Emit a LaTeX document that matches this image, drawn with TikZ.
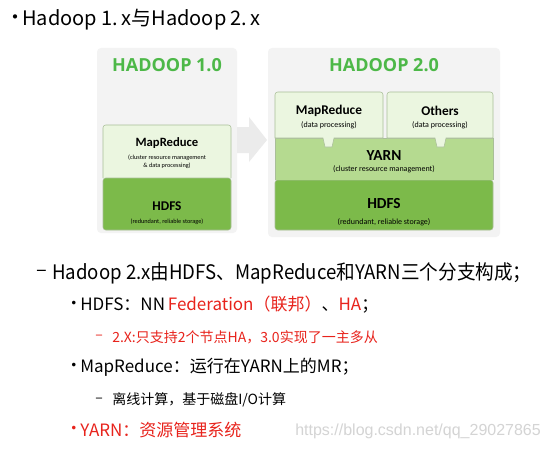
\documentclass[tikz,border=0pt]{standalone}
\usepackage{fontspec}
\setmainfont{Noto Sans CJK SC}
\newfontfamily\boxfont{Carlito}
\newfontfamily\headfont{Open Sans}
\newfontfamily\urlfont{Liberation Sans}
\usetikzlibrary{positioning}
\definecolor{panelgray}{HTML}{F3F3F3}
\definecolor{hgreen}{HTML}{4DB848}
\definecolor{palegreen}{HTML}{EBF6E0}
\definecolor{midgreen}{HTML}{B5DA90}
\definecolor{hdfsgreen}{HTML}{7CBA4A}
\definecolor{boxline}{HTML}{A9BE98}
\definecolor{pptred}{HTML}{E8231C}
\definecolor{arrowgray}{HTML}{EBEBEB}
\definecolor{markgray}{HTML}{D4D4D4}
\begin{document}
\begin{tikzpicture}[x=0.75pt, y=-0.75pt,
    every node/.style={inner sep=0pt},
    layer/.style={draw=boxline, line width=0.4pt},
    hadooptitle/.style={font=\headfont\bfseries\fontsize{13.5}{13.5}\selectfont, text=hgreen},
    boxhead/.style={font=\boxfont\bfseries\fontsize{10}{10}\selectfont},
    bighead/.style={font=\boxfont\bfseries\fontsize{11.5}{11.5}\selectfont},
    oldsub/.style={font=\boxfont\fontsize{4.7}{5.8}\selectfont, align=center},
    boxsub/.style={font=\boxfont\fontsize{6}{7}\selectfont, align=center},
    lvlone/.style={anchor=west, font=\fontsize{15}{15}\selectfont},
    lvltwo/.style={anchor=west, font=\fontsize{12.75}{12.75}\selectfont},
    lvlthree/.style={anchor=west, font=\fontsize{10.5}{10.5}\selectfont}]
    \fill[white] (0,0) rectangle (549,453);
    \useasboundingbox (0,0) rectangle (549,453);
    % title line
    \node[lvlone] (tbullet) at (5,20) {•};
    \node[lvlone] (title) at (22,20) {Hadoop 1.\,x与Hadoop 2.\,x};
    % hadoop 1.0 panel
    \fill[panelgray, rounded corners=3] (97,48) rectangle (237,233);
    \node[hadooptitle] (oldtitle) at (167,65) {HADOOP 1.0};
    \path[layer, fill=palegreen, rounded corners=2] (103,178) -- (103,125) -- (231,125) -- (231,178);
    \path[layer, fill=hdfsgreen, rounded corners=2] (103,178) -- (103,230) -- (231,230) -- (231,178) -- cycle;
    \node[boxhead, font=\boxfont\bfseries\fontsize{9.5}{9.5}\selectfont] (oldmr) at (167,143) {MapReduce};
    \node[oldsub] (oldmrsub) at (167,162) {(cluster resource management\\ \& data processing)};
    \node[boxhead] (oldhdfs) at (167,206) {HDFS};
    \node[oldsub] (oldhdfssub) at (167,222) {(redundant, reliable storage)};
    % arrow between panels
    \fill[arrowgray] (237,127) -- (249,127) -- (249,117) -- (267,140) -- (249,162) -- (249,153) -- (237,153) -- cycle;
    % hadoop 2.0 panel
    \fill[panelgray, rounded corners=3] (268,48) rectangle (500,237);
    \node[hadooptitle] (newtitle) at (384,65) {HADOOP 2.0};
    \path[layer, fill=hdfsgreen, rounded corners=2] (275,180) -- (275,230) -- (493,230) -- (493,180) -- cycle;
    \path[layer, fill=midgreen] (275,180) -- (275,138) -- (493,138) -- (493,180);
    \path[layer, fill=palegreen] (275,138) [rounded corners=2] -- (275,92) -- (383,92) [sharp corners] -- (383,138)
        -- (334,138) -- (332,147) -- (325,147) -- (323,138) -- cycle;
    \path[layer, fill=palegreen] (387,138) [rounded corners=2] -- (387,92) -- (493,92) [sharp corners] -- (493,138)
        -- (446,138) -- (444,147) -- (437,147) -- (435,138) -- cycle;
    \node[boxhead] (newmr) at (329,111) {MapReduce};
    \node[boxsub] (newmrsub) at (329,125) {(data processing)};
    \node[boxhead] (others) at (440,111) {Others};
    \node[boxsub] (otherssub) at (440,125) {(data processing)};
    \node[bighead] (yarn) at (384,156) {YARN};
    \node[boxsub] (yarnsub) at (384,169) {(cluster resource management)};
    \node[bighead] (newhdfs) at (384,204) {HDFS};
    \node[boxsub] (newhdfssub) at (384,222) {(redundant, reliable storage)};
    % outline text
    \node[lvlone] (dashone) at (36,273) {–};
    \node[lvlone, xscale=0.93] (lineone) at (52,273) {Hadoop 2.x由HDFS、MapReduce和YARN三个分支构成；};
    \node[lvltwo] (bullettwo) at (65,305) {•};
    \node[lvltwo] (linetwo) at (80,305) {HDFS：NN\,\textcolor{pptred}{Federation（联邦）}、\textcolor{pptred}{HA}；};
    \node[lvlthree, text=pptred] (dashthree) at (95,337) {–};
    \node[lvlthree, text=pptred] (linethree) at (112,337) {2.X:只支持2个节点HA，3.0实现了一主多从};
    \node[lvltwo] (bulletfour) at (65,367) {•};
    \node[lvltwo] (linefour) at (80,367) {MapReduce：运行在YARN上的MR；};
    \node[lvlthree] (dashfive) at (95,400) {–};
    \node[lvlthree] (linefive) at (112,400) {离线计算，基于磁盘I/O计算};
    \node[lvltwo, text=pptred] (bulletsix) at (65,430) {•};
    \node[lvltwo, text=pptred] (linesix) at (80,430) {YARN：资源管理系统};
    \node[anchor=west, text=markgray, font=\urlfont\fontsize{12}{12}\selectfont] (watermark) at (295,431) {https://blog.csdn.net/qq\_29027865};
\end{tikzpicture}
\end{document}
